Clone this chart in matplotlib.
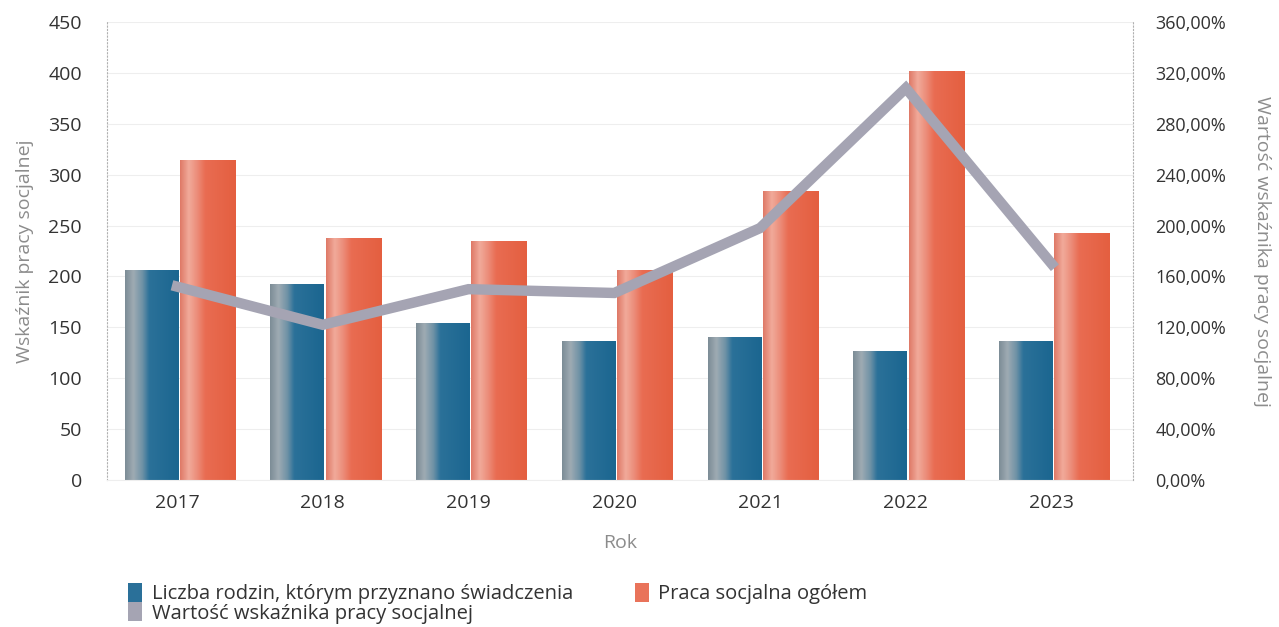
#!/usr/bin/env python3
###
### plot.py
### bar + line chart: social work indicator by year

import numpy as np
import matplotlib
matplotlib.use('AGG')
import matplotlib.pyplot as plt
from matplotlib.colors import LinearSegmentedColormap
from matplotlib.patches import Patch
from matplotlib.ticker import FuncFormatter, MultipleLocator

plt.rcParams['font.family'] = ['Open Sans', 'DejaVu Sans']

# data
years = ['2017', '2018', '2019', '2020', '2021', '2022', '2023']
families = [206, 192, 154, 136, 140, 126, 136]
social_work = [314, 237, 234, 206, 283, 401, 242]
indicator = [152, 122, 150, 147, 198, 308, 170]   # in %

label_families = 'Liczba rodzin, którym przyznano świadczenia'
label_work = 'Praca socjalna ogółem'
label_indicator = 'Wartość wskaźnika pracy socjalnej'

BAR_W = 0.37
TEXT = '#333333'
LABEL = '#8c8c8c'

blue_cmap = LinearSegmentedColormap.from_list(
    'blue', [(0, '#7d8d97'), (0.15, '#9eabb3'), (0.32, '#6f92a6'),
             (0.45, '#2b7199'), (1, '#1b6690')])
red_cmap = LinearSegmentedColormap.from_list(
    'red', [(0, '#df7a68'), (0.15, '#f1aa9a'), (0.3, '#ec8e7b'),
            (0.45, '#e96c52'), (1, '#e45f40')])


def gradient_bar(ax, x0, width, height, cmap):
    grad = np.linspace(0, 1, 64).reshape(1, -1)
    ax.imshow(grad, extent=[x0, x0 + width, 0, height], aspect='auto',
              cmap=cmap, zorder=2, interpolation='bilinear')


fig = plt.figure(figsize=(12.79, 6.27), dpi=100)
ax = fig.add_axes([0.0837, 0.2344, 0.8023, 0.7306])

x = np.arange(len(years))
for i in x:
    gradient_bar(ax, i - BAR_W, BAR_W, families[i], blue_cmap)
    gradient_bar(ax, i + 0.01, BAR_W + 0.01, social_work[i], red_cmap)

ax.set_xlim(-0.49, 6.55)
ax.set_ylim(0, 450)
ax.yaxis.set_major_locator(MultipleLocator(50))
ax.grid(axis='y', color='#eeeeee', linewidth=0.8)
ax.set_axisbelow(True)

ax.set_xticks(x - 0.01)
ax.set_xticklabels(years)
ax.tick_params(axis='both', length=0, labelsize=14, colors=TEXT)
ax.tick_params(axis='x', pad=10)
ax.tick_params(axis='y', pad=18)

for side in ['top', 'right']:
    ax.spines[side].set_visible(False)
ax.spines['left'].set_color('#b0b0b0')
ax.spines['left'].set_linestyle((0, (1, 2)))
ax.spines['bottom'].set_color('#eeeeee')

ax.set_xlabel('Rok', color=LABEL, fontsize=14, labelpad=16)
ax.set_ylabel('Wskaźnik pracy socjalnej', color=LABEL, fontsize=14, labelpad=10)

# line on the right axis
ax2 = ax.twinx()
ax2.plot(x - 0.01, indicator, color='#a5a4b3', linewidth=7.5,
         solid_joinstyle='miter', zorder=3)
ax2.set_ylim(0, 360)
ax2.yaxis.set_major_locator(MultipleLocator(40))
ax2.yaxis.set_major_formatter(
    FuncFormatter(lambda v, p: f'{v:.2f}%'.replace('.', ',')))
ax2.tick_params(axis='y', length=0, labelsize=13, colors=TEXT, pad=16)
for side in ['top', 'left', 'bottom']:
    ax2.spines[side].set_visible(False)
ax2.spines['right'].set_color('#b0b0b0')
ax2.spines['right'].set_linestyle((0, (1, 2)))
ax2.set_ylabel(label_indicator, color=LABEL, fontsize=14, rotation=270,
               labelpad=32)

handles = [Patch(facecolor='#2a7099', edgecolor='none', label=label_families),
           Patch(facecolor='#a5a4b3', edgecolor='none', label=label_indicator),
           Patch(facecolor='#e9735a', edgecolor='none', label=label_work)]
fig.legend(handles=handles, ncol=2, loc='upper left',
           bbox_to_anchor=(0.0925, 0.086), frameon=False, fontsize=14.5,
           labelcolor=TEXT, handlelength=0.7, handleheight=1.05,
           handletextpad=0.45, columnspacing=3.1, labelspacing=-0.1,
           borderpad=0)

fig.savefig('out.png', dpi=100)
plt.close(fig)
